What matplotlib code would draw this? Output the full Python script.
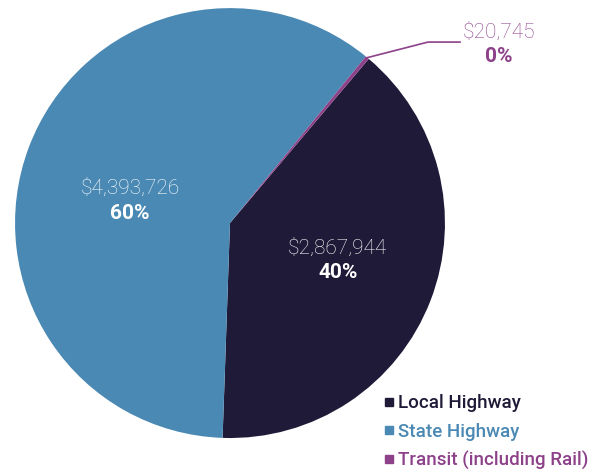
import numpy as np
import matplotlib.pyplot as plt
from matplotlib.lines import Line2D

# Data
categories = ['Local Highway', 'State Highway', 'Transit (including Rail)']
amounts = [2867944, 4393726, 20745]
pct_labels = ['40%', '60%', '0%']
colors = ['#1f1a38', '#4a89b3', '#8c4189']

plt.rcParams['font.family'] = ['Roboto', 'DejaVu Sans']

fig = plt.figure(figsize=(5.95, 4.74), dpi=100)
ax = fig.add_axes([0.0252, 0.0759, 0.7227, 0.907])

wedges, _ = ax.pie(amounts, colors=colors, startangle=49.8, counterclock=False,
                   radius=1.0, wedgeprops=dict(linewidth=0))
ax.set_xlim(-1, 1)
ax.set_ylim(-1, 1)
ax.set_aspect('equal')
ax.axis('off')

def fmt_money(v):
    return '${:,}'.format(v)

# labels inside the two big wedges
label_r = [0.53, 0.477]
label_shift = [2, 8]
for i in range(2):
    w = wedges[i]
    mid = np.deg2rad((w.theta1 + w.theta2) / 2 + label_shift[i])
    x = label_r[i] * np.cos(mid)
    y = label_r[i] * np.sin(mid)
    ax.text(x, y + 0.058, fmt_money(amounts[i]), ha='center', va='center',
            color='white', fontsize=15, fontweight='light')
    ax.text(x, y - 0.058, pct_labels[i], ha='center', va='center',
            color='white', fontsize=15, fontweight='bold')

# leader line for the tiny transit slice
w = wedges[2]
mid = np.deg2rad((w.theta1 + w.theta2) / 2)
x0, y0 = np.cos(mid), np.sin(mid)
ax.plot([x0, 0.921, 1.07], [y0, 0.842, 0.842], color=colors[2], lw=1.2,
        clip_on=False)
ax.text(1.251, 0.888, fmt_money(amounts[2]), ha='center', va='center',
        color=colors[2], fontsize=15, fontweight='light')
ax.text(1.251, 0.777, pct_labels[2], ha='center', va='center',
        color=colors[2], fontsize=15, fontweight='bold')

# legend
handles = [Line2D([0], [0], marker='s', linestyle='none', markersize=6,
                  markerfacecolor=c, markeredgecolor=c) for c in colors]
leg = fig.legend(handles, categories, loc='upper left',
                 bbox_to_anchor=(374 / 595, 1 - 385 / 474), frameon=False,
                 handlelength=0.6, handletextpad=0.2, labelspacing=0.55,
                 borderpad=0, prop={'size': 13.5, 'weight': 'medium'})
for t, c in zip(leg.get_texts(), colors):
    t.set_color(c)

fig.savefig('out.png', dpi=100)
